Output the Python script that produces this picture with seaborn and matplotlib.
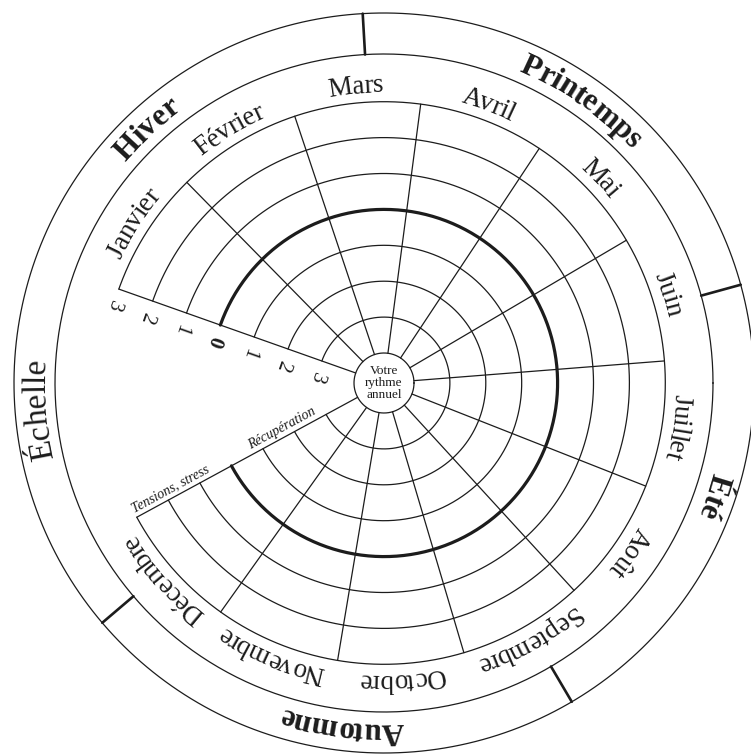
import numpy as np
import pandas as pd
import seaborn as sns
import matplotlib
matplotlib.use("Agg")
import matplotlib.pyplot as plt
from matplotlib.font_manager import FontProperties, findfont
from matplotlib.ft2font import FT2Font
try:
    from matplotlib.ft2font import LoadFlags, Kerning
    NO_HINT = LoadFlags.NO_HINTING
    KERN = Kerning.UNFITTED
except ImportError:
    from matplotlib.ft2font import LOAD_NO_HINTING as NO_HINT, KERNING_UNFITTED as KERN

# chart content
months = ["Janvier", "Février", "Mars", "Avril", "Mai", "Juin", "Juillet",
          "Août", "Septembre", "Octobre", "Novembre", "Décembre"]
seasons = ["Hiver", "Printemps", "Été", "Automne"]
season_dividers = [93.3, 15.4, -59.5, -139.6]      # degrees
season_label_angles = [133, 55, -19, -97]          # degrees
scale_labels = ["3", "2", "1", "0", "1", "2", "3"]  # outer -> inner
scale_title = "Échelle"
side_labels = ["Tensions, stress", "Récupération"]
center_label = "Votre\nrythme\nannuel"

sns.set_theme(style="white")
plt.rcParams["font.family"] = ["Liberation Serif", "DejaVu Serif"]

DPI = 100
W, H = 751, 756
R = 375                      # axes radius in px (1 data unit = 1 px)
cx, cy = 384, 383            # centre of the wheel in px
ink = "#1c1c1c"

start = 160.5                # upper edge of the scale gap (deg)
step = 26.0                  # one month (deg)
end = start - step * len(months)

r_center = 30
ring_step = 35.9
rings = [r_center + ring_step * (i + 1) for i in range(len(scale_labels))]  # inner -> outer
r_grid = rings[-1]
r_month = 329
r_out = 370

fig = plt.figure(figsize=(W / DPI, H / DPI), dpi=DPI)
fig.patch.set_facecolor("white")
ax = fig.add_axes([(cx - R) / W, (H - cy - R) / H, 2 * R / W, 2 * R / H], projection="polar")

# rings of the grid (only across the months) + full circles
rows = []
for i, rad in enumerate(rings):
    if i == 3:
        continue
    th = np.linspace(np.deg2rad(end), np.deg2rad(start), 400)
    rows += [{"ring": f"g{i}", "theta": t, "r": rad} for t in th]
for name, rad in [("c", r_center), ("m", r_month), ("o", r_out)]:
    th = np.linspace(0, 2 * np.pi, 600)
    rows += [{"ring": name, "theta": t, "r": rad} for t in th]
df = pd.DataFrame(rows)
sns.lineplot(data=df, x="theta", y="r", units="ring", estimator=None, sort=False,
             color=ink, linewidth=0.9, ax=ax, legend=False)

bold = pd.DataFrame({"theta": np.linspace(np.deg2rad(end), np.deg2rad(start), 400)})
bold["r"] = rings[3]
sns.lineplot(data=bold, x="theta", y="r", estimator=None, sort=False,
             color=ink, linewidth=2.3, ax=ax, legend=False)

# month dividers
for k in range(len(months) + 1):
    t = np.deg2rad(start - step * k)
    ax.plot([t, t], [r_center, r_grid], color=ink, lw=0.9)

# season dividers
for a in season_dividers:
    t = np.deg2rad(a)
    ax.plot([t, t], [r_month, r_out], color=ink, lw=1.9)


def glyph_layout(s, prop, track):
    # ink centres and total advance of each character, in px
    font = FT2Font(findfont(prop))
    font.set_size(prop.get_size_in_points(), 72)
    pen, centres, prev = 0.0, [], None
    for ch in s:
        idx = font.get_char_index(ord(ch))
        if prev is not None:
            try:
                pen += font.get_kerning(prev, idx, KERN) / 64
            except Exception:
                pass
        g = font.load_char(ord(ch), flags=NO_HINT)
        centres.append(pen + (g.horiBearingX + g.width / 2) / 64)
        pen += track * g.linearHoriAdvance / 65536
        prev = idx
    k = DPI / 72
    return [c * k for c in centres], pen * k


def arc_text(s, center_deg, r, size, weight="normal", track=0.96):
    prop = FontProperties(family="Liberation Serif", size=size, weight=weight)
    centres, total = glyph_layout(s, prop, track)
    for ch, mid in zip(s, centres):
        if ch == " ":
            continue
        th = np.deg2rad(center_deg) + (total / 2 - mid) / r
        ax.text(th, r, ch, fontproperties=prop, rotation=np.rad2deg(th) - 90,
                ha="center", va="baseline", rotation_mode="anchor", color=ink)


for k, m in enumerate(months):
    arc_text(m, start - step * (k + 0.5), 291, 19.5)

for s, a in zip(seasons, season_label_angles):
    arc_text(s, a, 340, 22.5, weight="bold", track=1.0)
arc_text(scale_title, 184.4, 339, 24, track=0.98)


def to_polar(x, y):
    return np.arctan2(y, x), np.hypot(x, y)


# scale digits along the upper edge of the gap
ts = np.deg2rad(start)
for lab, rad in zip(scale_labels, rings[::-1]):
    x = rad * np.cos(ts) - 17 * np.sin(ts)
    y = rad * np.sin(ts) + 17 * np.cos(ts)
    t, rr = to_polar(x, y)
    ax.text(t, rr, lab, fontsize=15, fontweight="bold" if lab == "0" else "normal",
            rotation=start - 270, ha="center", va="center", rotation_mode="anchor", color=ink)

# labels along the lower edge of the gap
te = np.deg2rad(end)
for lab, rad in zip(side_labels, [238, 111]):
    x = rad * np.cos(te) + 2 * np.sin(te)
    y = rad * np.sin(te) - 2 * np.cos(te)
    t, rr = to_polar(x, y)
    ax.text(t, rr, lab, fontsize=10, style="italic", rotation=end + 360 - 180,
            ha="center", va="bottom", rotation_mode="anchor", color=ink)

ax.text(0, 0, center_label, fontsize=9.5, ha="center", va="center",
        linespacing=1.0, color=ink)

ax.set_ylim(0, R)
ax.set_xticks([])
ax.set_yticks([])
ax.set_xlabel("")
ax.set_ylabel("")
ax.grid(False)
ax.spines["polar"].set_visible(False)
ax.set_facecolor("white")

fig.savefig("out.png", dpi=DPI, facecolor="white")
